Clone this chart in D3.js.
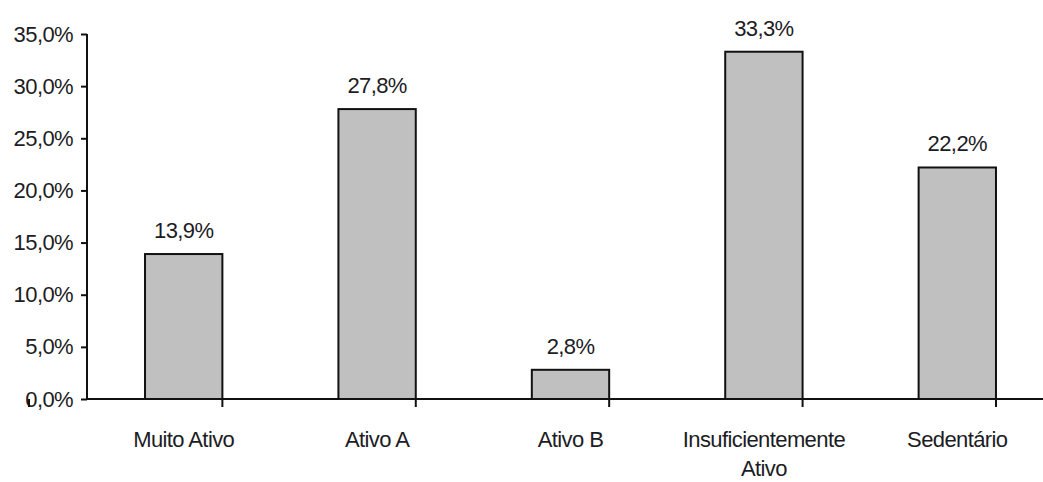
<!DOCTYPE html>
<html>
<head>
<meta charset="utf-8">
<script src="https://cdn.jsdelivr.net/npm/d3@7"></script>
<style>
    body { margin: 0; background: #fff; }
    text { font-family: "Liberation Sans", Arial, sans-serif; fill: #1c1c24; letter-spacing: -0.6px; }
</style>
</head>
<body>
<svg id="canvas"></svg>
<script>
(() => {

    const WIDTH = 1043;
    const HEIGHT = 482;
    const FONT_SIZE = 22;

    const categories = ["Muito Ativo", "Ativo A", "Ativo B", "Insuficientemente\nAtivo", "Sedentário"];
    const values = [13.9, 27.8, 2.8, 33.3, 22.2];
    const yTicks = [0, 5, 10, 15, 20, 25, 30, 35];

    const fmt = v => v.toFixed(1).replace(".", ",") + "%";

    let svg = d3.select("#canvas")
        .attr("width", WIDTH)
        .attr("height", HEIGHT);

    let x = d3.scaleBand()
        .domain(categories)
        .range([87, 1054])
        .paddingInner(0.6)
        .paddingOuter(0.3);

    let y = d3.scaleLinear()
        .domain([0, 35])
        .range([399, 34]);

    // bars
    svg.selectAll("rect.bar")
        .data(values)
        .enter()
        .append("rect")
        .attr("class", "bar")
        .attr("x", (d, i) => x(categories[i]))
        .attr("y", d => y(d))
        .attr("width", x.bandwidth())
        .attr("height", d => y(0) - y(d))
        .attr("fill", "#c0c0c0")
        .attr("stroke", "#111")
        .attr("stroke-width", 2);

    // value labels
    svg.selectAll("text.value")
        .data(values)
        .enter()
        .append("text")
        .attr("class", "value")
        .attr("x", (d, i) => x(categories[i]) + x.bandwidth() / 2)
        .attr("y", d => y(d) - 16)
        .attr("text-anchor", "middle")
        .style("font-size", FONT_SIZE + "px")
        .text(d => fmt(d));

    // y axis
    let yAxis = svg.append("g")
        .attr("transform", `translate(${87}, 0)`)
        .call(d3.axisLeft(y).tickValues(yTicks).tickSize(6).tickPadding(8).tickFormat(fmt));
    yAxis.select(".domain").attr("d", `M0,${y(35)}V${y(0)}`).attr("stroke", "#111").attr("stroke-width", 2);
    yAxis.selectAll(".tick line").attr("stroke", "#111").attr("stroke-width", 2);
    yAxis.selectAll(".tick text")
        .style("font-size", FONT_SIZE + "px")
        .style("font-family", "Liberation Sans, Arial, sans-serif")
        .attr("fill", "#1c1c24");

    // x axis
    let xAxisG = svg.append("g").attr("transform", `translate(0, ${y(0)})`);
    xAxisG.append("line")
        .attr("x1", 86).attr("x2", 1054)
        .attr("y1", 0).attr("y2", 0)
        .attr("stroke", "#111").attr("stroke-width", 2);
    let step = x.step();
    let bounds = d3.range(categories.length + 1).map(i => x(categories[0]) - x.paddingOuter() * step - x.paddingInner() * step / 2 + i * step);
    xAxisG.selectAll("line.tick")
        .data(bounds)
        .enter()
        .append("line")
        .attr("class", "tick")
        .attr("x1", d => d).attr("x2", d => d)
        .attr("y1", 0).attr("y2", 8)
        .attr("stroke", "#111").attr("stroke-width", 2);

    let labels = xAxisG.selectAll("text.cat")
        .data(categories)
        .enter()
        .append("text")
        .attr("class", "cat")
        .attr("text-anchor", "middle")
        .style("font-size", FONT_SIZE + "px")
        .attr("transform", d => `translate(${x(d) + x.bandwidth() / 2}, 48)`);
    labels.each(function (d) {
        let lines = d.split("\n");
        d3.select(this).selectAll("tspan")
            .data(lines)
            .enter()
            .append("tspan")
            .attr("x", 0)
            .attr("y", (l, i) => i * 29)
            .text(l => l);
    });

})();
</script>
</body>
</html>
